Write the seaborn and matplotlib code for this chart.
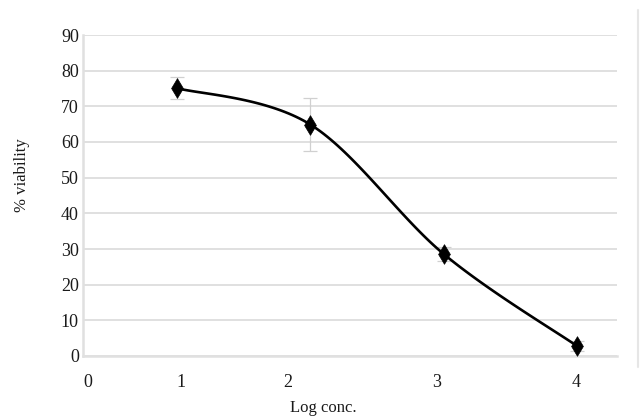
import numpy as np
import pandas as pd
import matplotlib
matplotlib.use("Agg")
import matplotlib.pyplot as plt
from matplotlib.lines import Line2D
import seaborn as sns

# ---- data ----
log_conc = [1, 2, 3, 4]
viability = [75.1, 64.9, 28.6, 2.8]
viability_err = [3.0, 7.3, 2.0, 1.5]
x_tick_labels = ["0", "1", "2", "3", "4"]
y_ticks = [0, 10, 20, 30, 40, 50, 60, 70, 80, 90]

# ---- layout ----
W, H = 640, 417
x_tick_pos = [0.333, 1.03, 1.83, 2.95, 3.99]

sns.set_theme(style="white")
plt.rcParams["font.family"] = ["Liberation Serif", "DejaVu Serif"]

fig = plt.figure(figsize=(W / 100, H / 100), dpi=100)
ax = fig.add_axes([83 / W, (H - 356) / H, (617 - 83) / W, (356 - 35) / H])

# Excel-style smoothed line (Catmull-Rom -> cubic Bezier)
px = np.array(log_conc, dtype=float)
py = np.array(viability, dtype=float)
n = len(px)
sx, sy = [], []
t = np.linspace(0, 1, 40)
for i in range(n - 1):
    p0 = np.array([px[max(i - 1, 0)], py[max(i - 1, 0)]])
    p1 = np.array([px[i], py[i]])
    p2 = np.array([px[i + 1], py[i + 1]])
    p3 = np.array([px[min(i + 2, n - 1)], py[min(i + 2, n - 1)]])
    c1 = p1 + (p2 - p0) / 6
    c2 = p2 - (p3 - p1) / 6
    b = ((1 - t) ** 3)[:, None] * p1 + (3 * (1 - t) ** 2 * t)[:, None] * c1 \
        + (3 * (1 - t) * t ** 2)[:, None] * c2 + (t ** 3)[:, None] * p2
    sx.extend(b[:, 0])
    sy.extend(b[:, 1])
curve = pd.DataFrame({"x": sx, "y": sy})
pts = pd.DataFrame({"x": log_conc, "y": viability})

# error bars
ax.errorbar(log_conc, viability, yerr=viability_err, fmt="none",
            ecolor="#d0d0d0", elinewidth=0.9, capsize=5, capthick=0.9, zorder=2)

sns.lineplot(data=curve, x="x", y="y", ax=ax, color="black", linewidth=1.9,
             sort=False, zorder=3)
sns.scatterplot(data=pts, x="x", y="y", ax=ax, marker="d", s=100,
                color="black", edgecolor="black", linewidth=0.5, zorder=4)

ax.set_xlim(0.295, 4.30)
ax.set_ylim(0, 90)

ax.set_yticks(y_ticks)
ax.set_yticklabels([str(v) for v in y_ticks], fontsize=13, color="#1a1a1a")
ax.set_xticks(x_tick_pos)
ax.set_xticklabels(x_tick_labels, fontsize=13, color="#1a1a1a")
ax.tick_params(axis="both", length=0)
ax.tick_params(axis="x", pad=13)
ax.tick_params(axis="y", pad=3)

ax.yaxis.grid(True, color="#e0e0e0", linewidth=1.4)
ax.xaxis.grid(False)
for s in ["top", "right"]:
    ax.spines[s].set_visible(False)
ax.spines["left"].set_color("#e0e0e0")
ax.spines["left"].set_linewidth(1.8)
ax.spines["bottom"].set_color("#e0e0e0")
ax.spines["bottom"].set_linewidth(1.8)

ax.set_xlabel("")
ax.set_ylabel("")
fig.text(323 / W, 1 - 408 / H, "Log conc.", fontsize=12, ha="center",
         va="center", color="#1a1a1a")
fig.text(22 / W, 1 - 175 / H, "% viability", fontsize=12, ha="center",
         va="center", rotation=90, color="#1a1a1a")

# right border of the original frame
fig.add_artist(Line2D([638 / W, 638 / W], [1 - 10 / H, 1 - 367 / H],
                      color="#e6e6e6", linewidth=1.5))

fig.savefig("out.png", dpi=100)
